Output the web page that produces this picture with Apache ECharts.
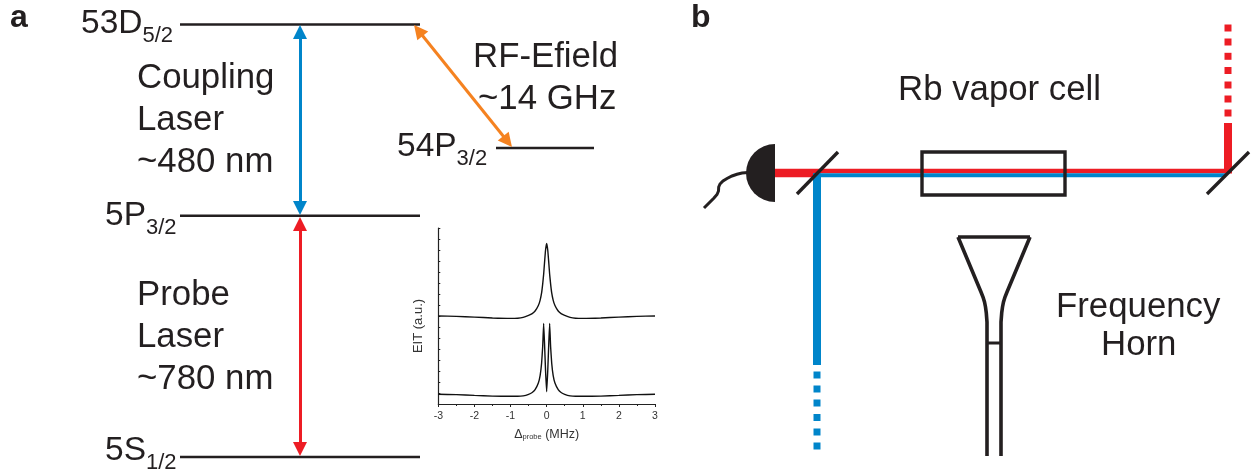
<!DOCTYPE html>
<html><head><meta charset="utf-8">
<style>html,body{margin:0;padding:0;background:#fff}#c{width:1254px;height:475px}</style>
<script src="https://cdn.jsdelivr.net/npm/echarts@6/dist/echarts.min.js"></script>
</head><body><div id="c"></div>
<script>
// Inset EIT spectra
const detuning = [-3,-2.5,-2,-1.5,-1,-0.8,-0.65,-0.5,-0.4,-0.32,-0.23,-0.18,-0.14,-0.11,-0.083,-0.06,-0.03,0,0.03,0.06,0.083,0.11,0.14,0.18,0.23,0.32,0.4,0.5,0.65,0.8,1,1.5,2,2.5,3];
const eitNoField = [8.0,7.97,7.9,7.82,7.78,7.8,7.88,8.06,8.22,8.45,8.95,9.45,10.1,10.9,11.8,12.8,14.0,14.6,14.0,12.8,11.8,10.9,10.1,9.45,8.95,8.45,8.22,8.06,7.88,7.8,7.78,7.82,7.9,7.97,8.0];
const eitWithField = [0.88,0.85,0.78,0.72,0.7,0.7,0.74,0.88,1.05,1.3,1.9,2.6,3.7,5.2,7.33,5.6,3.0,1.12,3.0,5.6,7.33,5.2,3.7,2.6,1.9,1.3,1.05,0.88,0.74,0.7,0.7,0.72,0.78,0.85,0.88];
const xTickRange = [-3, 3];
const yTickRange = [0, 16];

// Level diagram (a): drawn on a page-scaled value axis
const levels = [
  [[180,24.5],[420,24.5]],
  [[180,215.7],[420,215.7]],
  [[180,457],[420,457]],
  [[496,148],[594,148]]
];
const couplingArrow = [[300,32],[300,208]];
const probeArrow = [[300,224],[300,449]];
const rfArrow = [[418.4,30.5],[507.6,141.5]];

// Beam path (b)
const redThick = [[775,173],[817,173]];
const redBeam = [[817,171],[1226,171]];
const redRise = [[1228,173.5],[1228,123]];
const blueBeam = [[1226,175.3],[813,175.3]];
const blueDrop = [[817,173.3],[817,365]];
const redDots = [[1228,28],[1228,42],[1228,56.3],[1228,70.5],[1228,85],[1228,99],[1228,113]];
const blueDots = [[817,375],[817,389],[817,403],[817,417.5],[817,432],[817,446]];
const mirrors = [
  [[797,194],[838,152]],
  [[1207,194],[1249,152]]
];
const vaporCell = [[990,152],[1065,152],[1065,195],[922,195],[922,152],[990,152]];
const fibre = [[704,208],[714,198],[717,194.5],[718.5,191],[718.7,187],[720,184],[723,181],[727,178.5],[732,176],[737,174.3],[742,173],[748,172.5]];
const hornLeft = [[958,237],[981,292],[983,297],[984.5,302],[985.5,307],[986.3,313],[987,322],[987,456]];
const hornRight = [[1030,237],[1007,292],[1005,297],[1003.5,302],[1002.5,307],[1001.7,313],[1001,322],[1001,456]];
const hornTop = [[958,237],[1030,237]];
const hornBar = [[987,343],[1001,343]];
const detector = [[775,173]];

// Text
const labelTexts = ['{p|a}','{p|b}','{n|53D}{s|5/2}','{n|5P}{s|3/2}','{n|5S}{s|1/2}','{n|54P}{s|3/2}',
  'Coupling','Laser','~480 nm','Probe','Laser','~780 nm','RF-Efield','~14 GHz','Rb vapor cell','Frequency','Horn'];
const labelSpots = [[10,18],[691,18],[81,27],[105,219],[105,454],[397,150],
  [137,78],[137,120],[137,162],[137,295],[137,337],[137,379],[473,57],[478,99],[898,90],[1056,307],[1101,345]];

const ink='#231f20', blue='#0085ca', red='#ed1c24', orange='#f58220';
const pageAxes={xAxisIndex:0,yAxisIndex:0};
function path(pts,color,width){
  return Object.assign({type:'lines',coordinateSystem:'cartesian2d',polyline:true,silent:true,z:3,
    symbol:'none',lineStyle:{color,width,opacity:1,cap:'butt',join:'miter',curveness:0},
    data:[{coords:pts}]},pageAxes);
}
function arrow(pts,color,width){
  return Object.assign({type:'lines',coordinateSystem:'cartesian2d',silent:true,z:3,
    symbol:['triangle','triangle'],symbolSize:14,
    lineStyle:{color,width,opacity:1,cap:'butt',curveness:0},
    data:[{coords:pts}]},pageAxes);
}
function dots(pts,color){
  return Object.assign({type:'scatter',symbol:'rect',symbolSize:7,silent:true,z:3,
    itemStyle:{color,opacity:1},data:pts},pageAxes);
}
const base={fontFamily:'"Liberation Sans",Arial,sans-serif',fontSize:34.8,fill:ink};
const chart=echarts.init(document.getElementById('c'),null,{renderer:'canvas'});
chart.setOption({
  animation:false,
  backgroundColor:'#fff',
  grid:[
    {left:0,top:0,width:1254,height:475,show:false},
    {left:438.3,top:228,width:216.7,height:176,show:false}
  ],
  xAxis:[
    {type:'value',gridIndex:0,min:0,max:1254,show:false},
    {type:'value',gridIndex:1,min:xTickRange[0],max:xTickRange[1],interval:1,
     splitLine:{show:false},
     axisLine:{onZero:false,lineStyle:{color:'#222',width:1.2}},
     axisTick:{show:true,length:3,lineStyle:{color:'#222',width:1}},
     minorTick:{show:true,splitNumber:2,length:2,lineStyle:{color:'#222',width:1}},
     axisLabel:{color:'#333',fontFamily:'"Liberation Sans"',fontSize:10.5,margin:7,showMinLabel:true,showMaxLabel:true},
     name:'{d|Δ}{p|probe}{d| (MHz)}',nameLocation:'middle',nameGap:24,
     nameTextStyle:{fontFamily:'"Liberation Sans"',color:'#333',
       rich:{d:{fontSize:12.5,fontFamily:'"Liberation Sans"',color:'#333'},p:{fontSize:7.5,fontFamily:'"Liberation Sans"',color:'#333',verticalAlign:'bottom',lineHeight:10}}}}
  ],
  yAxis:[
    {type:'value',gridIndex:0,min:0,max:475,inverse:true,show:false},
    {type:'value',gridIndex:1,min:yTickRange[0],max:yTickRange[1],interval:1,
     splitLine:{show:false},
     axisLine:{show:true,onZero:false,lineStyle:{color:'#222',width:1.2}},
     axisTick:{show:true,inside:true,length:2,lineStyle:{color:'#222',width:1}},
     axisLabel:{show:false},
     name:'EIT (a.u.)',nameLocation:'middle',nameGap:13,nameRotate:90,
     nameTextStyle:{fontFamily:'"Liberation Sans"',fontSize:13,color:'#333',padding:[0,0,0,-20]}}
  ],
  series:[
    ...levels.map(l=>path(l,ink,2.6)),
    arrow(couplingArrow,blue,3),
    arrow(probeArrow,red,3),
    arrow(rfArrow,orange,3),
    path(redThick,red,8.4),
    path(redBeam,red,4.4),
    path(redRise,red,8),
    path(blueBeam,blue,4),
    path(blueDrop,blue,8),
    dots(redDots,red),
    dots(blueDots,blue),
    ...mirrors.map(m=>path(m,ink,3.4)),
    path(vaporCell,ink,3.4),
    path(fibre,ink,3),
    path(hornLeft,ink,3.6),
    path(hornRight,ink,3.6),
    path(hornTop,ink,3.6),
    path(hornBar,ink,3),
    Object.assign({type:'custom',silent:true,z:4,data:detector,
      renderItem(p,api){
        const c=api.coord([api.value(0),api.value(1)]);
        return {type:'sector',shape:{cx:c[0],cy:c[1],r0:0,r:api.size([29,0])[0],
          startAngle:Math.PI/2,endAngle:Math.PI*1.5,clockwise:true},style:{fill:ink}};
      }},pageAxes),
    Object.assign({type:'custom',silent:true,z:5,data:labelSpots,
      renderItem(p,api){
        const c=api.coord([api.value(0),api.value(1)]);
        return {type:'text',x:c[0],y:c[1],style:Object.assign({},base,{
          text:labelTexts[p.dataIndex],align:'left',verticalAlign:'middle',
          rich:{
            p:{fontFamily:base.fontFamily,fontSize:32,fontWeight:'bold',fill:ink},
            n:{fontFamily:base.fontFamily,fontSize:33.5,fill:ink,lineHeight:40,verticalAlign:'top'},
            s:{fontFamily:base.fontFamily,fontSize:22,fill:ink,lineHeight:24,verticalAlign:'bottom'}
          }})};
      }},pageAxes),
    {type:'line',xAxisIndex:1,yAxisIndex:1,data:detuning.map((d,i)=>[d,eitNoField[i]]),
     showSymbol:false,symbol:'none',smooth:0.15,silent:true,clip:true,z:6,lineStyle:{color:'#111',width:1.4}},
    {type:'line',xAxisIndex:1,yAxisIndex:1,data:detuning.map((d,i)=>[d,eitWithField[i]]),
     showSymbol:false,symbol:'none',smooth:0.1,silent:true,clip:true,z:6,lineStyle:{color:'#111',width:1.4}}
  ]
});
</script></body></html>
